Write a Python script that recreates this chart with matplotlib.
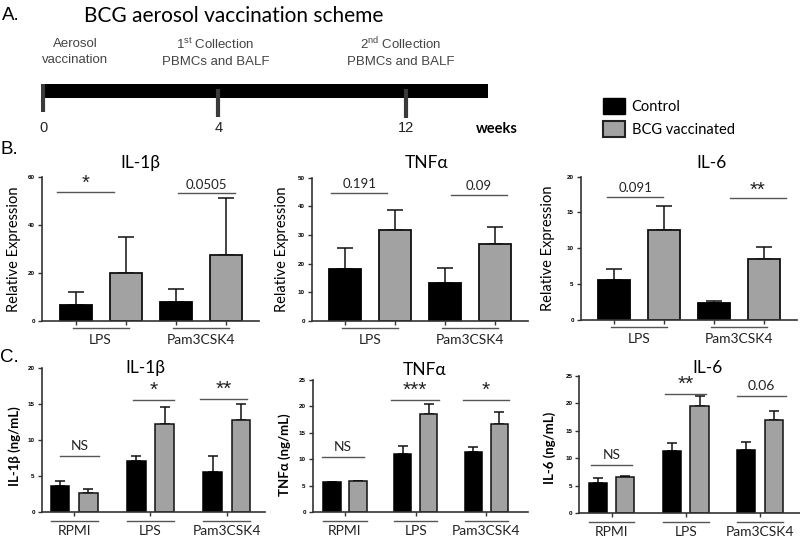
import matplotlib
matplotlib.use("Agg")
import matplotlib.pyplot as plt
import matplotlib.transforms as mtransforms
from matplotlib.patches import Patch
import numpy as np

W, H = 800, 537
CAL = ['Lato', 'DejaVu Sans']
ARIAL = ['Liberation Sans', 'DejaVu Sans']
GRAY = '#a2a2a2'

plt.rcParams['font.family'] = CAL
plt.rcParams['mathtext.fontset'] = 'custom'
plt.rcParams['mathtext.rm'] = 'Liberation Sans'

# ---- panel A: timeline
weeks = ['0', '4', '12']
events = ['Aerosol\nvaccination',
          '1$^{\\rm st}$ Collection\nPBMCs and BALF',
          '2$^{\\rm nd}$ Collection\nPBMCs and BALF']

# ---- panel B: relative expression (Control vs BCG vaccinated)
b_groups = ['LPS', 'Pam3CSK4']
b_il1b_ctrl, b_il1b_ctrl_err = [6.6, 8.0], [5.3, 5.3]
b_il1b_bcg, b_il1b_bcg_err = [20.0, 27.5], [14.9, 23.9]
b_tnf_ctrl, b_tnf_ctrl_err = [18.0, 13.1], [7.4, 5.4]
b_tnf_bcg, b_tnf_bcg_err = [31.8, 26.9], [7.0, 5.8]
b_il6_ctrl, b_il6_ctrl_err = [5.5, 2.4], [1.6, 0.2]
b_il6_bcg, b_il6_bcg_err = [12.6, 8.5], [3.3, 1.6]
b_il1b_sig, b_il1b_sig_y = ['*', '0.0505'], [53.8, 53.2]
b_tnf_sig, b_tnf_sig_y = ['0.191', '0.09'], [44.8, 44.1]
b_il6_sig, b_il6_sig_y = ['0.091', '**'], [17.2, 17.0]

# ---- panel C: cytokine ng/mL
c_groups = ['RPMI', 'LPS', 'Pam3CSK4']
c_il1b_ctrl, c_il1b_ctrl_err = [3.6, 7.1, 5.6], [0.7, 0.7, 2.2]
c_il1b_bcg, c_il1b_bcg_err = [2.6, 12.2, 12.8], [0.6, 2.45, 2.2]
c_tnf_ctrl, c_tnf_ctrl_err = [5.65, 11.1, 11.4], [0.1, 1.4, 0.9]
c_tnf_bcg, c_tnf_bcg_err = [5.9, 18.5, 16.7], [0.1, 1.9, 2.3]
c_il6_ctrl, c_il6_ctrl_err = [5.45, 11.4, 11.5], [1.05, 1.4, 1.4]
c_il6_bcg, c_il6_bcg_err = [6.65, 19.5, 17.0], [0.2, 1.8, 1.65]
c_il1b_sig, c_il1b_sig_y = ['NS', '*', '**'], [7.7, 15.6, 15.7]
c_tnf_sig, c_tnf_sig_y = ['NS', '***', '*'], [10.4, 21.2, 21.3]
c_il6_sig, c_il6_sig_y = ['NS', '**', '0.06'], [8.8, 21.8, 21.3]


def px_axes(fig, x0, y0, x1, y1):
    return fig.add_axes([x0 / W, 1 - y1 / H, (x1 - x0) / W, (y1 - y0) / H])


def below(ax, dots):
    return mtransforms.offset_copy(ax.get_xaxis_transform(), fig=ax.figure,
                                   x=0, y=-dots, units='dots')


def style_axes(ax, yticks):
    for s in ['top', 'right']:
        ax.spines[s].set_visible(False)
    for s in ['left', 'bottom']:
        ax.spines[s].set_linewidth(1.2)
        ax.spines[s].set_color('#333333')
    ax.set_ylim(yticks[0], yticks[-1])
    ax.set_yticks(yticks)
    ax.tick_params(axis='y', length=3, width=1, pad=2, color='#333333',
                   labelsize=4.5)
    for lab in ax.get_yticklabels():
        lab.set_fontweight('bold')
        lab.set_family(ARIAL)
    ax.tick_params(axis='x', length=3, width=1, color='#333333')
    ax.set_xticklabels([])


def draw_bars(ax, xc, xb, ctrl, ctrl_err, bcg, bcg_err, width, cap, lw):
    ax.bar(xc, ctrl, width, color='black', edgecolor='black', linewidth=lw,
           zorder=2)
    ax.bar(xb, bcg, width, color=GRAY, edgecolor='#111111', linewidth=lw,
           zorder=2)
    for x, v, e in [(xc, ctrl, ctrl_err), (xb, bcg, bcg_err)]:
        ax.errorbar(x, v, yerr=[np.zeros(len(e)), e], fmt='none',
                    ecolor='#111111', elinewidth=1.1, capsize=cap,
                    capthick=1.1, zorder=1)


def draw_sig(ax, spans, labels, ys, fs, gap):
    for (x0, x1), lab, y in zip(spans, labels, ys):
        ax.plot([x0, x1], [y, y], color='#555555', lw=1, clip_on=False)
        star = set(lab) == {'*'}
        ax.annotate(lab, ((x0 + x1) / 2, y),
                    xytext=(0, gap - 3 if star else gap),
                    textcoords='offset points', ha='center', va='bottom',
                    fontsize=fs + 5 if star else fs, color='#222222',
                    family=ARIAL if star else CAL, annotation_clip=False)


def group_labels(ax, spans, labels, line_off, text_off):
    for (x0, x1), lab in zip(spans, labels):
        ax.plot([x0, x1], [0, 0], color='#555555', lw=1,
                transform=below(ax, line_off), clip_on=False)
        ax.text((x0 + x1) / 2, 0, lab, transform=below(ax, text_off),
                ha='center', va='center', fontsize=10, color='#222222')


fig = plt.figure(figsize=(W / 100, H / 100), dpi=100)

# ---------------- panel A
fig.text(2 / W, 1 - 16 / H, 'A.', fontsize=13.5, va='center', family=ARIAL)
fig.text(234 / W, 1 - 16 / H, 'BCG aerosol vaccination scheme', fontsize=15,
         ha='center', va='center')
tl_pos = [0, 1, 2.07]
axt = px_axes(fig, 41, 84, 488, 118)
axt.set_xlim(-0.012, 2.54)
axt.set_ylim(0, 1)
axt.axis('off')
axt.barh(0.79, 2.54, height=0.42, left=0, color='black')
axt.vlines(tl_pos, [0.18, 0.02, 0.0], [1.0, 0.86, 0.84], color='#3a3a3a', lw=3)
for i, (p, wk, ev) in enumerate(zip(tl_pos, weeks, events)):
    xp = axt.transData.transform((p, 0))[0]
    fig.text(xp / W, 1 - 128 / H, wk, fontsize=10.5, ha='center', va='center',
             family=ARIAL, color='#222222')
    fig.text((xp + [32, -3, -5][i]) / W, 1 - 52 / H, ev,
             fontsize=9.5, ha='center', va='center', family=ARIAL,
             color='#444444', linespacing=1.45)
fig.text(497 / W, 1 - 129 / H, 'weeks', fontsize=10.5, fontweight='bold',
         ha='center', va='center')

fig.legend(handles=[Patch(facecolor='black', edgecolor='black'),
                    Patch(facecolor=GRAY, edgecolor='#222222', linewidth=1.5)],
           labels=['Control', 'BCG vaccinated'], loc='upper left',
           bbox_to_anchor=(596 / W, 1 - 91 / H), frameon=False, fontsize=10.5,
           handlelength=1.5, handleheight=1.25, handletextpad=0.45,
           labelspacing=0.5, borderpad=0)

# ---------------- panel B
fig.text(0 / W, 1 - 150 / H, 'B.', fontsize=13.5, va='center', family=ARIAL)
b_specs = [
    ('IL-1β', (42, 177, 259, 321), [0, 20, 40, 60], b_il1b_ctrl,
     b_il1b_ctrl_err, b_il1b_bcg, b_il1b_bcg_err, b_il1b_sig, b_il1b_sig_y,
     [-0.37, 2.05], (140, 163), 14),
    ('TNFα', (311.7, 177.7, 528, 320.9), [0, 10, 20, 30, 40, 50], b_tnf_ctrl,
     b_tnf_ctrl_err, b_tnf_bcg, b_tnf_bcg_err, b_tnf_sig, b_tnf_sig_y,
     [-0.28, 2.12], (427, 163), 282),
    ('IL-6', (580.7, 176.7, 797, 319.7), [0, 5, 10, 15, 20], b_il6_ctrl,
     b_il6_ctrl_err, b_il6_bcg, b_il6_bcg_err, b_il6_sig, b_il6_sig_y,
     [-0.14, 2.32], (711, 163), 548),
]
for (title, box, yt, ctrl, ce, bcg, be, sig, sig_y, sx, tpos,
     ylx) in b_specs:
    ax = px_axes(fig, *box)
    xc = np.arange(len(b_groups)) * 2
    xb = xc + 1
    draw_bars(ax, xc, xb, ctrl, ce, bcg, be, 0.64, 5.5, 1.3)
    ax.set_xlim(-0.67, 3.67)
    style_axes(ax, yt)
    ax.set_xticks(np.sort(np.concatenate([xc, xb])))
    ax.set_xticklabels([])
    draw_sig(ax, [(s, s + 1.13) for s in sx], sig, sig_y, 9.5, 2)
    group_labels(ax, [(c - 0.06, c + 1.06) for c in xc], b_groups, 7, 19)
    fig.text(tpos[0] / W, 1 - tpos[1] / H, title, fontsize=12.5, ha='center',
             va='center')
    fig.text(ylx / W, 1 - (box[1] + box[3]) / 2 / H, 'Relative Expression',
             rotation=90, fontsize=10.5, ha='center', va='center')

# ---------------- panel C
fig.text(0 / W, 1 - 358 / H, 'C.', fontsize=13.5, va='center', family=ARIAL)
c_specs = [
    ('IL-1β', 'IL-1β (ng/mL)', (41.7, 368.3, 265, 511.7), (-0.425, 2.5),
     [0, 5, 10, 15, 20], c_il1b_ctrl, c_il1b_ctrl_err, c_il1b_bcg,
     c_il1b_bcg_err, c_il1b_sig, c_il1b_sig_y,
     [(-0.19, 0.33), (0.77, 1.31), (1.65, 2.26)], (145, 368), (15, 446)),
    ('TNFα', 'TNFα (ng/mL)', (312.7, 380, 528, 512.3), (-0.457, 2.59),
     [0, 5, 10, 15, 20, 25], c_tnf_ctrl, c_tnf_ctrl_err, c_tnf_bcg,
     c_tnf_bcg_err, c_tnf_sig, c_tnf_sig_y,
     [(-0.33, 0.27), (0.65, 1.33), (1.67, 2.32)], (425, 370), (285, 455)),
    ('IL-6', 'IL-6 (ng/mL)', (579.3, 376, 800, 513.3), (-0.437, 2.54),
     [0, 5, 10, 15, 20, 25], c_il6_ctrl, c_il6_ctrl_err, c_il6_bcg,
     c_il6_bcg_err, c_il6_sig, c_il6_sig_y,
     [(-0.28, 0.28), (0.72, 1.27), (1.69, 2.35)], (708, 368), (550, 448)),
]
for (title, ylab, box, xl, yt, ctrl, ce, bcg, be, sig, sig_y, spans, tpos,
     ypos) in c_specs:
    ax = px_axes(fig, *box)
    g = np.arange(len(c_groups))
    xc, xb = g - 0.185, g + 0.185
    draw_bars(ax, xc, xb, ctrl, ce, bcg, be, 0.245, 3.6, 1.1)
    ax.set_xlim(*xl)
    style_axes(ax, yt)
    ax.set_xticks(g)
    ax.set_xticklabels([])
    draw_sig(ax, spans, sig, sig_y, 10, 3)
    group_labels(ax, [(a - 0.122, b + 0.122) for a, b in zip(xc, xb)],
                 c_groups, 9, 19)
    fig.text(tpos[0] / W, 1 - tpos[1] / H, title, fontsize=12.5, ha='center',
             va='center')
    fig.text(ypos[0] / W, 1 - ypos[1] / H, ylab, rotation=90, fontsize=9.5,
             fontweight='bold', ha='center', va='center')

fig.savefig('out.png', dpi=100)
